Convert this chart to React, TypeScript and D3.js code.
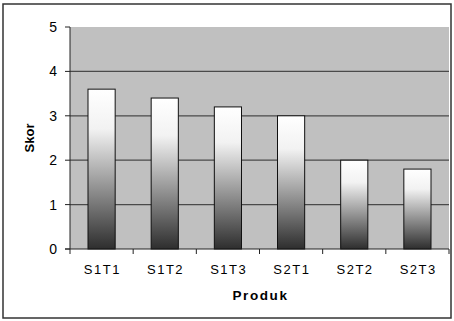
import React from "react";
import * as d3 from "d3";

const categories = ["S1T1", "S1T2", "S1T3", "S2T1", "S2T2", "S2T3"];
const values = [3.6, 3.4, 3.2, 3.0, 2.0, 1.8];
const yTicks = [0, 1, 2, 3, 4, 5];

export default function App() {
  const W = 454, H = 321;
  const left = 70, right = 449, top = 27, bottom = 249;
  const x = d3.scaleBand<string>().domain(categories).range([left, right]).paddingInner(0.57).paddingOuter(0.285);
  const y = d3.scaleLinear().domain([0, 5]).range([bottom, top]);
  const step = x.step();
  const font = "Arial, 'Liberation Sans', sans-serif";
  return (
    <svg width={W} height={H} style={{ position: "absolute", left: 0, top: 0, display: "block" }}>
      <defs>
        <linearGradient id="barGrad" x1="0" y1="0" x2="0" y2="1">
          <stop offset="0%" stopColor="#ffffff" />
          <stop offset="25%" stopColor="#f2f2f2" />
          <stop offset="55%" stopColor="#a4a4a4" />
          <stop offset="100%" stopColor="#2e2e2e" />
        </linearGradient>
      </defs>
      <rect x={0} y={0} width={W} height={H} fill="#ffffff" />
      <rect x={3} y={4} width={448} height={314} fill="#ffffff" stroke="#333" strokeWidth={1.5} />
      <rect x={left} y={top} width={right - left} height={bottom - top} fill="#c0c0c0" />
      {yTicks.filter(t => t > 0 && t < 5).map(t => (
        <line key={t} x1={left} x2={right} y1={y(t)} y2={y(t)} stroke="#4a4a4a" strokeWidth={1.2} />
      ))}
      {categories.map((c, i) => {
        const bx = x(c)!;
        const by = y(values[i]);
        return (
          <rect key={c} x={bx} y={by} width={x.bandwidth()} height={bottom - by}
            fill="url(#barGrad)" stroke="#111" strokeWidth={1} />
        );
      })}
      <line x1={left} x2={left} y1={top} y2={bottom} stroke="#222" strokeWidth={1} />
      <line x1={left - 5} x2={right} y1={bottom} y2={bottom} stroke="#222" strokeWidth={1} />
      {yTicks.map(t => (
        <g key={t}>
          <line x1={left - 5} x2={left} y1={y(t)} y2={y(t)} stroke="#222" />
          <text x={57} y={y(t) + 5} textAnchor="end" fontFamily={font} fontSize={14} fill="#000">{t}</text>
        </g>
      ))}
      {d3.range(categories.length + 1).map(i => (
        <line key={i} x1={left + i * step} x2={left + i * step} y1={bottom} y2={bottom + 5} stroke="#222" />
      ))}
      {categories.map(c => (
        <text key={c} x={x(c)! + x.bandwidth() / 2 + 0.8} y={274} textAnchor="middle" fontFamily={font} fontSize={13} letterSpacing={1.5} fill="#000">{c}</text>
      ))}
      <text x={(left + right) / 2 + 1} y={300} textAnchor="middle" fontFamily={font} fontSize={13.5} fontWeight="bold" letterSpacing={1.6} fill="#000">Produk</text>
      <text transform={`translate(34, ${(top + bottom) / 2}) rotate(-90)`} textAnchor="middle" fontFamily={font} fontSize={13} fontWeight="bold" fill="#000">Skor</text>
    </svg>
  );
}
